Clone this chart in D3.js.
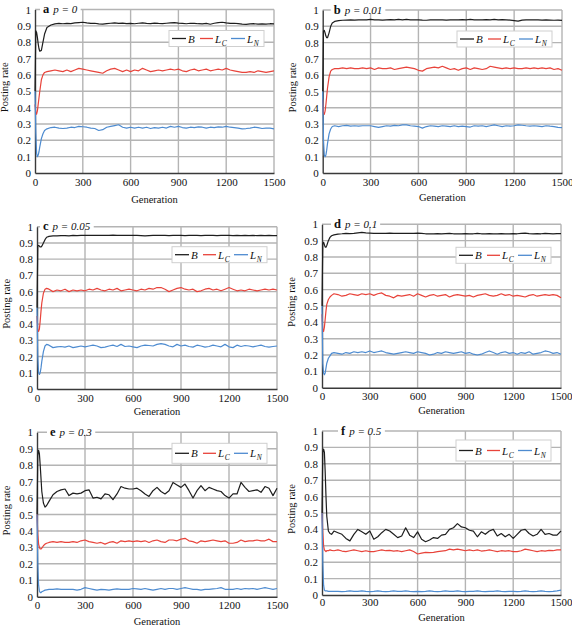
<!DOCTYPE html>
<html><head><meta charset="utf-8">
<script src="https://cdn.jsdelivr.net/npm/d3@7"></script>
<style>
body{margin:0;background:#fff}
svg{display:block}
text{font-family:"Liberation Serif","Times New Roman",serif;fill:#111}
</style>
</head><body>
<svg id="chart" width="572" height="628"></svg>
<script>
const generations = [0,5,10,15,20,25,30,40,50,60,75,
 100,125,150,175,200,225,250,275,300,325,
 350,375,400,425,450,475,500,525,550,575,
 600,625,650,675,700,725,750,775,800,825,
 850,875,900,925,950,975,1000,1025,1050,1075,
 1100,1125,1150,1175,1200,1225,1250,1275,1300,1325,
 1350,1375,1400,1425,1450,1475,1500];
const xTicks = [0,300,600,900,1200,1500];
const yTicks = [0,0.1,0.2,0.3,0.4,0.5,0.6,0.7,0.8,0.9,1];
const yTickLabels = ["0","0.1","0.2","0.3","0.4","0.5","0.6","0.7","0.8","0.9","1"];
const panelLetters = ["a","b","c","d","e","f"];
const panelP = ["0","0.01","0.05","0.1","0.3","0.5"];
const seriesNames = ["B","L","L"];
const seriesSubs = ["","C","N"];
const seriesColors = ["#1e1e1e","#e8433a","#4d8bd0"];

// panel a, p = 0
const aB = [0.5,0.87,0.86,0.83,0.79,0.76,0.745,0.75,0.80,0.85,0.89,
 0.905,0.912,0.915,0.913,0.915,0.914,0.918,0.92,0.922,0.918,
 0.915,0.916,0.912,0.91,0.914,0.916,0.918,0.915,0.917,0.914,
 0.915,0.913,0.916,0.918,0.915,0.914,0.917,0.915,0.914,0.916,
 0.918,0.92,0.917,0.915,0.913,0.916,0.915,0.913,0.912,0.915,
 0.91,0.916,0.92,0.922,0.918,0.915,0.916,0.914,0.91,0.909,
 0.912,0.913,0.91,0.912,0.911,0.913,0.912];
const aLC = [0.42,0.37,0.36,0.38,0.42,0.46,0.50,0.57,0.60,0.615,0.62,
 0.625,0.63,0.625,0.62,0.63,0.62,0.63,0.64,0.635,0.63,
 0.625,0.62,0.615,0.61,0.625,0.635,0.64,0.63,0.62,0.63,
 0.62,0.63,0.625,0.64,0.63,0.62,0.625,0.63,0.625,0.63,
 0.635,0.63,0.635,0.625,0.62,0.63,0.635,0.625,0.63,0.635,
 0.625,0.63,0.635,0.63,0.64,0.63,0.625,0.62,0.615,0.615,
 0.62,0.615,0.625,0.62,0.615,0.62,0.625];
const aLN = [0.5,0.25,0.12,0.10,0.11,0.13,0.16,0.21,0.24,0.26,0.27,
 0.278,0.28,0.275,0.272,0.275,0.28,0.278,0.285,0.283,0.28,
 0.275,0.272,0.26,0.265,0.28,0.285,0.29,0.295,0.28,0.275,
 0.28,0.275,0.28,0.275,0.28,0.272,0.278,0.275,0.28,0.275,
 0.285,0.28,0.285,0.278,0.275,0.28,0.278,0.282,0.28,0.275,
 0.28,0.278,0.282,0.28,0.285,0.28,0.278,0.275,0.27,0.272,
 0.275,0.28,0.278,0.272,0.275,0.275,0.27];

// panel b, p = 0.01
const bB = [0.5,0.87,0.875,0.86,0.84,0.83,0.83,0.86,0.90,0.92,0.93,
 0.935,0.937,0.938,0.939,0.938,0.94,0.94,0.94,0.942,0.94,
 0.94,0.938,0.94,0.941,0.939,0.942,0.94,0.942,0.94,0.939,
 0.94,0.938,0.937,0.94,0.939,0.94,0.94,0.938,0.94,0.939,
 0.94,0.941,0.94,0.942,0.94,0.939,0.94,0.941,0.94,0.942,
 0.94,0.941,0.94,0.938,0.935,0.932,0.938,0.94,0.939,0.94,
 0.94,0.938,0.939,0.938,0.937,0.938,0.936];
const bLC = [0.45,0.37,0.36,0.38,0.42,0.47,0.52,0.59,0.625,0.635,0.64,
 0.64,0.645,0.64,0.645,0.64,0.64,0.645,0.64,0.645,0.635,
 0.645,0.64,0.64,0.645,0.635,0.64,0.645,0.65,0.645,0.64,
 0.63,0.625,0.64,0.645,0.65,0.645,0.655,0.645,0.635,0.64,
 0.63,0.64,0.645,0.635,0.645,0.64,0.635,0.64,0.655,0.65,
 0.645,0.64,0.645,0.64,0.645,0.64,0.64,0.645,0.64,0.645,
 0.64,0.645,0.64,0.645,0.635,0.64,0.63];
const bLN = [0.5,0.2,0.11,0.10,0.11,0.14,0.18,0.24,0.27,0.285,0.29,
 0.285,0.29,0.292,0.288,0.29,0.287,0.29,0.29,0.29,0.285,
 0.28,0.285,0.29,0.288,0.292,0.29,0.295,0.295,0.29,0.288,
 0.285,0.275,0.285,0.29,0.288,0.285,0.29,0.288,0.285,0.29,
 0.285,0.288,0.285,0.282,0.29,0.288,0.29,0.285,0.29,0.295,
 0.29,0.285,0.29,0.288,0.29,0.295,0.293,0.29,0.288,0.29,
 0.288,0.285,0.29,0.287,0.285,0.28,0.278];

// panel c, p = 0.05
const cB = [0.5,0.88,0.885,0.88,0.875,0.875,0.88,0.90,0.92,0.935,0.94,
 0.943,0.944,0.945,0.945,0.944,0.946,0.945,0.946,0.947,0.946,
 0.947,0.946,0.947,0.946,0.947,0.948,0.947,0.946,0.947,0.946,
 0.947,0.946,0.945,0.944,0.945,0.946,0.946,0.947,0.946,0.945,
 0.946,0.947,0.946,0.945,0.946,0.947,0.946,0.945,0.946,0.947,
 0.946,0.945,0.946,0.947,0.946,0.945,0.946,0.945,0.946,0.945,
 0.946,0.945,0.946,0.945,0.946,0.945,0.945];
const cLC = [0.45,0.36,0.355,0.37,0.42,0.48,0.53,0.59,0.615,0.62,0.615,
 0.60,0.61,0.605,0.615,0.60,0.61,0.605,0.61,0.605,0.615,
 0.61,0.62,0.61,0.605,0.615,0.61,0.62,0.605,0.61,0.615,
 0.61,0.605,0.615,0.61,0.62,0.615,0.625,0.625,0.615,0.60,
 0.61,0.62,0.625,0.615,0.61,0.615,0.60,0.605,0.615,0.62,
 0.61,0.615,0.605,0.615,0.625,0.615,0.605,0.61,0.605,0.615,
 0.61,0.605,0.61,0.615,0.61,0.615,0.61];
const cLN = [0.5,0.2,0.10,0.09,0.10,0.13,0.17,0.23,0.265,0.275,0.27,
 0.255,0.26,0.262,0.258,0.265,0.255,0.26,0.265,0.26,0.265,
 0.27,0.265,0.255,0.258,0.265,0.27,0.262,0.275,0.262,0.265,
 0.26,0.255,0.265,0.27,0.268,0.265,0.275,0.28,0.275,0.265,
 0.26,0.275,0.265,0.27,0.262,0.258,0.27,0.265,0.258,0.262,
 0.27,0.265,0.26,0.275,0.26,0.255,0.27,0.262,0.268,0.265,
 0.26,0.265,0.27,0.262,0.258,0.262,0.265];

// panel d, p = 0.1
const dB = [0.5,0.88,0.89,0.875,0.86,0.86,0.87,0.90,0.92,0.93,0.935,
 0.94,0.942,0.945,0.943,0.945,0.948,0.95,0.947,0.946,0.945,
 0.945,0.944,0.945,0.946,0.944,0.945,0.944,0.945,0.944,0.945,
 0.946,0.944,0.942,0.941,0.942,0.943,0.942,0.943,0.944,0.942,
 0.941,0.942,0.943,0.941,0.942,0.944,0.942,0.941,0.943,0.942,
 0.941,0.943,0.942,0.941,0.943,0.942,0.944,0.946,0.943,0.942,
 0.943,0.942,0.944,0.943,0.942,0.943,0.943];
const dLC = [0.45,0.35,0.345,0.37,0.42,0.47,0.51,0.54,0.555,0.565,0.575,
 0.57,0.56,0.565,0.575,0.57,0.565,0.575,0.57,0.575,0.565,
 0.575,0.58,0.565,0.56,0.55,0.565,0.56,0.565,0.57,0.56,
 0.575,0.565,0.555,0.565,0.57,0.56,0.565,0.57,0.555,0.565,
 0.57,0.565,0.56,0.565,0.555,0.565,0.57,0.575,0.565,0.56,
 0.565,0.575,0.565,0.57,0.56,0.565,0.56,0.555,0.565,0.57,
 0.56,0.565,0.57,0.565,0.57,0.565,0.55];
const dLN = [0.5,0.15,0.09,0.08,0.09,0.12,0.15,0.18,0.195,0.21,0.215,
 0.21,0.205,0.215,0.21,0.22,0.215,0.22,0.215,0.225,0.215,
 0.22,0.225,0.215,0.21,0.205,0.21,0.215,0.22,0.215,0.21,
 0.22,0.215,0.21,0.20,0.205,0.215,0.21,0.22,0.215,0.21,
 0.215,0.22,0.21,0.215,0.205,0.20,0.205,0.215,0.225,0.215,
 0.205,0.215,0.22,0.21,0.215,0.205,0.215,0.21,0.22,0.205,
 0.21,0.215,0.225,0.22,0.21,0.215,0.205];

// panel e, p = 0.3
const eB = [0.5,0.86,0.89,0.87,0.80,0.72,0.64,0.57,0.545,0.555,0.58,
 0.62,0.64,0.65,0.655,0.615,0.63,0.625,0.63,0.645,0.65,
 0.60,0.605,0.595,0.625,0.62,0.59,0.625,0.67,0.66,0.655,
 0.655,0.66,0.645,0.625,0.61,0.645,0.665,0.64,0.625,0.645,
 0.695,0.68,0.665,0.685,0.645,0.60,0.645,0.675,0.645,0.665,
 0.655,0.645,0.64,0.615,0.60,0.625,0.625,0.695,0.665,0.64,
 0.645,0.65,0.635,0.67,0.66,0.615,0.66];
const eLC = [0.5,0.38,0.32,0.30,0.29,0.29,0.295,0.31,0.32,0.325,0.33,
 0.335,0.33,0.335,0.33,0.33,0.335,0.33,0.34,0.345,0.335,
 0.33,0.325,0.33,0.32,0.33,0.335,0.325,0.34,0.335,0.34,
 0.335,0.34,0.335,0.34,0.33,0.34,0.345,0.335,0.33,0.345,
 0.345,0.34,0.35,0.355,0.34,0.335,0.325,0.34,0.335,0.34,
 0.345,0.34,0.335,0.34,0.325,0.325,0.33,0.345,0.335,0.34,
 0.34,0.345,0.34,0.34,0.35,0.335,0.335];
const eLN = [0.5,0.2,0.07,0.035,0.025,0.025,0.03,0.035,0.04,0.042,0.045,
 0.045,0.048,0.045,0.045,0.045,0.045,0.04,0.045,0.055,0.05,
 0.045,0.04,0.045,0.043,0.04,0.045,0.048,0.045,0.045,0.045,
 0.05,0.048,0.045,0.05,0.045,0.04,0.045,0.05,0.045,0.05,
 0.05,0.045,0.05,0.055,0.05,0.045,0.045,0.04,0.045,0.045,
 0.048,0.05,0.055,0.045,0.045,0.045,0.05,0.045,0.05,0.048,
 0.05,0.045,0.05,0.055,0.05,0.045,0.05];

// panel f, p = 0.5
const fB = [0.5,0.87,0.89,0.87,0.75,0.60,0.48,0.39,0.375,0.37,0.39,
 0.38,0.37,0.345,0.33,0.37,0.40,0.385,0.37,0.39,0.34,
 0.355,0.38,0.40,0.39,0.37,0.35,0.36,0.41,0.365,0.35,
 0.385,0.34,0.325,0.335,0.35,0.345,0.365,0.37,0.40,0.41,
 0.435,0.415,0.41,0.395,0.39,0.355,0.385,0.37,0.39,0.40,
 0.36,0.375,0.355,0.37,0.345,0.37,0.395,0.40,0.375,0.36,
 0.37,0.40,0.37,0.375,0.365,0.365,0.39];
const fLC = [0.5,0.38,0.30,0.275,0.27,0.265,0.27,0.27,0.275,0.272,0.27,
 0.275,0.268,0.265,0.27,0.275,0.27,0.265,0.27,0.265,0.265,
 0.27,0.275,0.27,0.272,0.268,0.27,0.265,0.27,0.275,0.265,
 0.25,0.255,0.26,0.258,0.26,0.265,0.268,0.27,0.28,0.275,
 0.28,0.275,0.27,0.275,0.27,0.275,0.268,0.27,0.275,0.27,
 0.265,0.27,0.268,0.27,0.265,0.265,0.27,0.28,0.275,0.27,
 0.265,0.27,0.268,0.272,0.27,0.275,0.275];
const fLN = [0.5,0.2,0.06,0.03,0.025,0.025,0.025,0.022,0.022,0.022,0.022,
 0.022,0.02,0.022,0.025,0.022,0.022,0.025,0.022,0.02,0.022,
 0.025,0.022,0.02,0.022,0.025,0.022,0.022,0.025,0.022,0.02,
 0.022,0.02,0.022,0.025,0.022,0.02,0.022,0.025,0.022,0.022,
 0.025,0.022,0.02,0.022,0.022,0.025,0.022,0.02,0.022,0.022,
 0.025,0.022,0.02,0.022,0.022,0.02,0.022,0.025,0.022,0.02,
 0.022,0.025,0.022,0.02,0.022,0.025,0.03];

const panelSeries = [[aB,aLC,aLN],[bB,bLC,bLN],[cB,cLC,cLN],[dB,dLC,dLN],[eB,eLC,eLN],[fB,fLC,fLN]];

// layout (pixel geometry only)
const layout = [
 {L:35, R:274, T:9.5, B:173, tx:8,  lgTop:21, lgH:16, xlab:30, tp:5},
 {L:322.7, R:562, T:10, B:173, tx:11, lgTop:21, lgH:16, xlab:28, tp:5},
 {L:37, R:277, T:226.7, B:389, tx:6,  lgTop:20, lgH:16, xlab:26, tp:5},
 {L:322, R:561, T:224.3, B:387.7, tx:12, lgTop:23, lgH:16, xlab:26, tp:5},
 {L:37, R:277, T:432.3, B:596.7, tx:13, lgTop:11, lgH:20, xlab:28.5, tp:5},
 {L:322, R:561, T:431, B:595, tx:19, lgTop:9, lgH:21, xlab:25.5, tp:3.5}
];

const svg = d3.select("#chart");
const gridColor = "#b4b4b4";
const serif = '"Liberation Serif","Times New Roman",serif';

panelSeries.forEach((series, pi) => {
  const g0 = layout[pi];
  const x = d3.scaleLinear().domain([0,1500]).range([g0.L, g0.R]);
  const y = d3.scaleLinear().domain([0,1]).range([g0.B, g0.T]);
  const g = svg.append("g");

  // horizontal grid
  g.append("g").selectAll("line").data(yTicks.filter(v => v > 0)).join("line")
    .attr("x1", g0.L).attr("x2", g0.R)
    .attr("y1", d => y(d)).attr("y2", d => y(d))
    .attr("stroke", gridColor).attr("stroke-width", 1.4);
  // vertical grid
  g.append("g").selectAll("line").data(xTicks.filter(v => v > 0)).join("line")
    .attr("x1", d => x(d)).attr("x2", d => x(d))
    .attr("y1", g0.T).attr("y2", g0.B)
    .attr("stroke", gridColor).attr("stroke-width", 1.4);

  // axes
  const yAxis = d3.axisLeft(y).tickValues(yTicks).tickSize(0).tickPadding(4)
    .tickFormat((d,i) => yTickLabels[i]);
  const ya = g.append("g").attr("transform", `translate(${g0.L},0)`).call(yAxis);
  ya.attr("font-family", serif);
  ya.select(".domain").attr("stroke", "#3a3a3a").attr("stroke-width", 1.4);
  ya.selectAll("text").attr("font-size", 11).attr("fill", "#111").attr("font-family", serif);

  const xAxis = d3.axisBottom(x).tickValues(xTicks).tickSize(0).tickPadding(g0.tp)
    .tickFormat(d3.format("d"));
  const xa = g.append("g").attr("transform", `translate(0,${g0.B})`).call(xAxis);
  xa.attr("font-family", serif);
  xa.select(".domain").attr("stroke", "#3a3a3a").attr("stroke-width", 1.6);
  xa.selectAll("text").attr("font-size", 11).attr("fill", "#111").attr("font-family", serif);

  // axis titles
  g.append("text").attr("x", (g0.L + g0.R)/2).attr("y", g0.B + g0.xlab)
    .attr("text-anchor", "middle").attr("font-size", 10.5).attr("font-family", serif)
    .text("Generation");
  g.append("text")
    .attr("transform", `translate(${g0.L - 27},${(g0.T + g0.B)/2 - 4}) rotate(-90)`)
    .attr("text-anchor", "middle").attr("font-size", 10.5).attr("font-family", serif)
    .text("Posting rate");

  // lines
  const line = d3.line().x(d => x(d[0])).y(d => y(d[1]));
  series.forEach((vals, si) => {
    const pts = vals.map((v, i) => [generations[i], v]).filter(d => d[0] !== undefined);
    g.append("path").datum(pts).attr("d", line)
      .attr("fill", "none").attr("stroke", seriesColors[si]).attr("stroke-width", 1.2)
      .attr("stroke-linejoin", "round");
  });

  // panel title with white background over the top gridline
  const tx = g0.L + g0.tx;
  const bgRect = g.append("rect").attr("fill", "#fff");
  const title = g.append("text").attr("x", tx).attr("y", g0.T + 3.5).attr("font-family", serif);
  title.append("tspan").attr("font-weight", "bold").attr("font-size", 12.5).text(panelLetters[pi]);
  title.append("tspan").attr("dx", 4).attr("font-style", "italic").attr("font-size", 11)
    .text("p = " + panelP[pi]);
  const bb = title.node().getBBox();
  bgRect.attr("x", bb.x - 3).attr("y", g0.T - 3).attr("width", bb.width + 6).attr("height", 6);

  // legend
  const lw = 95;
  const lx = g0.R - 10 - lw, ly = g0.T + g0.lgTop;
  const lg = g.append("g").attr("transform", `translate(${lx},${ly})`);
  lg.append("rect").attr("width", lw).attr("height", g0.lgH)
    .attr("fill", "#fff").attr("stroke", "#cfcfcf").attr("stroke-width", 1);
  const cy = g0.lgH / 2;
  const items = [{x1:3,x2:17,tx:19},{x1:31,x2:44,tx:46},{x1:62,x2:76,tx:78}];
  items.forEach((it, si) => {
    lg.append("line").attr("x1", it.x1).attr("x2", it.x2).attr("y1", cy).attr("y2", cy)
      .attr("stroke", seriesColors[si]).attr("stroke-width", 1.3);
    const t = lg.append("text").attr("x", it.tx).attr("y", cy + 4).attr("font-family", serif)
      .attr("font-style", "italic").attr("font-size", 11).text(seriesNames[si]);
    if (seriesSubs[si]) {
      t.append("tspan").attr("font-size", 7.5).attr("dy", 3).attr("dx", 0.5).text(seriesSubs[si]);
    }
  });
});
</script>
</body></html>
